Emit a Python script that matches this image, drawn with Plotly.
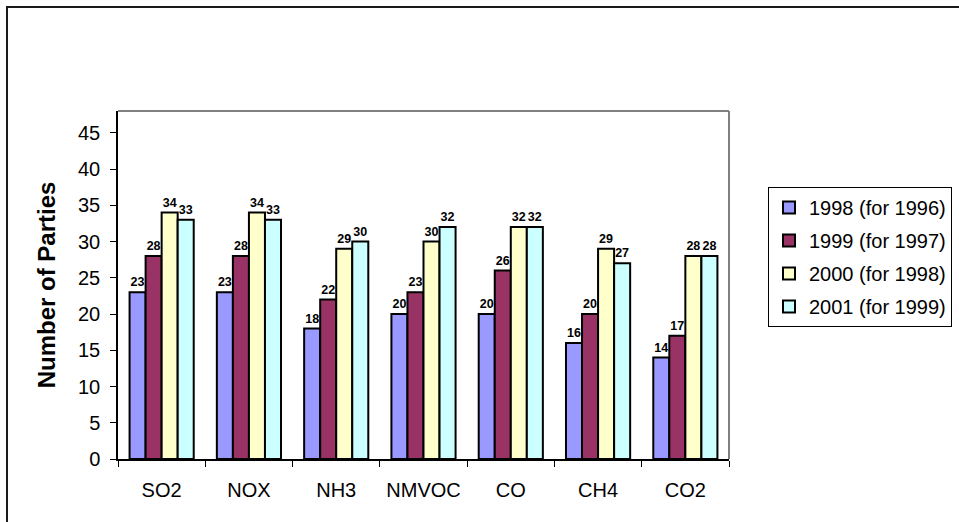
import plotly.graph_objects as go

# Pollutants reported and number of parties reporting per submission year
categories = ["SO2", "NOX", "NH3", "NMVOC", "CO", "CH4", "CO2"]
series_names = ["1998 (for 1996)", "1999 (for 1997)", "2000 (for 1998)", "2001 (for 1999)"]
values_1998 = [23, 23, 18, 20, 20, 16, 14]
values_1999 = [28, 28, 22, 23, 26, 20, 17]
values_2000 = [34, 34, 29, 30, 32, 29, 28]
values_2001 = [33, 33, 30, 32, 32, 27, 28]
y_ticks = [0, 5, 10, 15, 20, 25, 30, 35, 40, 45]

series_values = [values_1998, values_1999, values_2000, values_2001]
colors = ["#9999FF", "#993366", "#FFFFCC", "#CCFFFF"]

W, H = 959, 522
L, R, T, B = 118, 230, 111, 63
plot_w = W - L - R
plot_h = H - T - B

fig = go.Figure()
for i, (name, vals, col) in enumerate(zip(series_names, series_values, colors)):
    fig.add_trace(go.Bar(
        x=categories,
        y=vals,
        name=name,
        legendgroup=f"g{i}",
        marker=dict(color=col, line=dict(color="black", width=2)),
        text=[str(v) for v in vals],
        textposition="outside",
        textfont=dict(family="Arial, Liberation Sans, sans-serif", size=12.5,
                      color="black", weight="bold"),
        cliponaxis=False,
    ))

font_main = "Arial, Liberation Sans, sans-serif"

fig.update_layout(
    width=W,
    height=H,
    margin=dict(l=L, r=R, t=T, b=B, autoexpand=False),
    paper_bgcolor="white",
    plot_bgcolor="white",
    barmode="group",
    bargap=0.265,
    bargroupgap=0,
    font=dict(family=font_main, size=20, color="black"),
    showlegend=True,
    legend=dict(
        x=(768 - L) / plot_w,
        y=(H - B - 187) / plot_h,
        xanchor="left",
        yanchor="top",
        bordercolor="black",
        borderwidth=1,
        bgcolor="white",
        font=dict(family=font_main, size=20, color="black"),
        traceorder="grouped",
        tracegroupgap=4,
        itemwidth=30,
    ),
    xaxis=dict(
        type="category",
        showgrid=False,
        showline=True,
        linecolor="black",
        linewidth=1.5,
        ticks="outside",
        tickson="boundaries",
        ticklen=6,
        tickcolor="black",
        ticklabelstandoff=12,
        tickfont=dict(family=font_main, size=20, color="black"),
        zeroline=False,
    ),
    yaxis=dict(
        range=[0, 48],
        tickvals=y_ticks,
        showgrid=False,
        showline=True,
        linecolor="black",
        linewidth=1.5,
        ticks="outside",
        ticklen=6,
        tickcolor="black",
        ticklabelstandoff=6,
        tickfont=dict(family=font_main, size=20, color="black"),
        zeroline=False,
        title=dict(
            text="<b>Number of Parties</b>",
            font=dict(family=font_main, size=24, color="black"),
            standoff=16,
        ),
    ),
    shapes=[
        # grey frame of the plot area (top and right)
        dict(type="line", xref="paper", yref="paper", x0=0, x1=1, y0=1, y1=1,
             line=dict(color="#808080", width=2), layer="below"),
        dict(type="line", xref="paper", yref="paper", x0=1, x1=1, y0=0, y1=1,
             line=dict(color="#808080", width=2), layer="below"),
        # outer chart border
        dict(type="rect", xref="paper", yref="paper",
             x0=(7 - L) / plot_w, x1=(W + 20 - L) / plot_w,
             y0=(H - B - (H + 20)) / plot_h, y1=(H - B - 7) / plot_h,
             line=dict(color="#1a1a1a", width=2), fillcolor="rgba(0,0,0,0)"),
    ],
)

fig.write_html("out.html")
